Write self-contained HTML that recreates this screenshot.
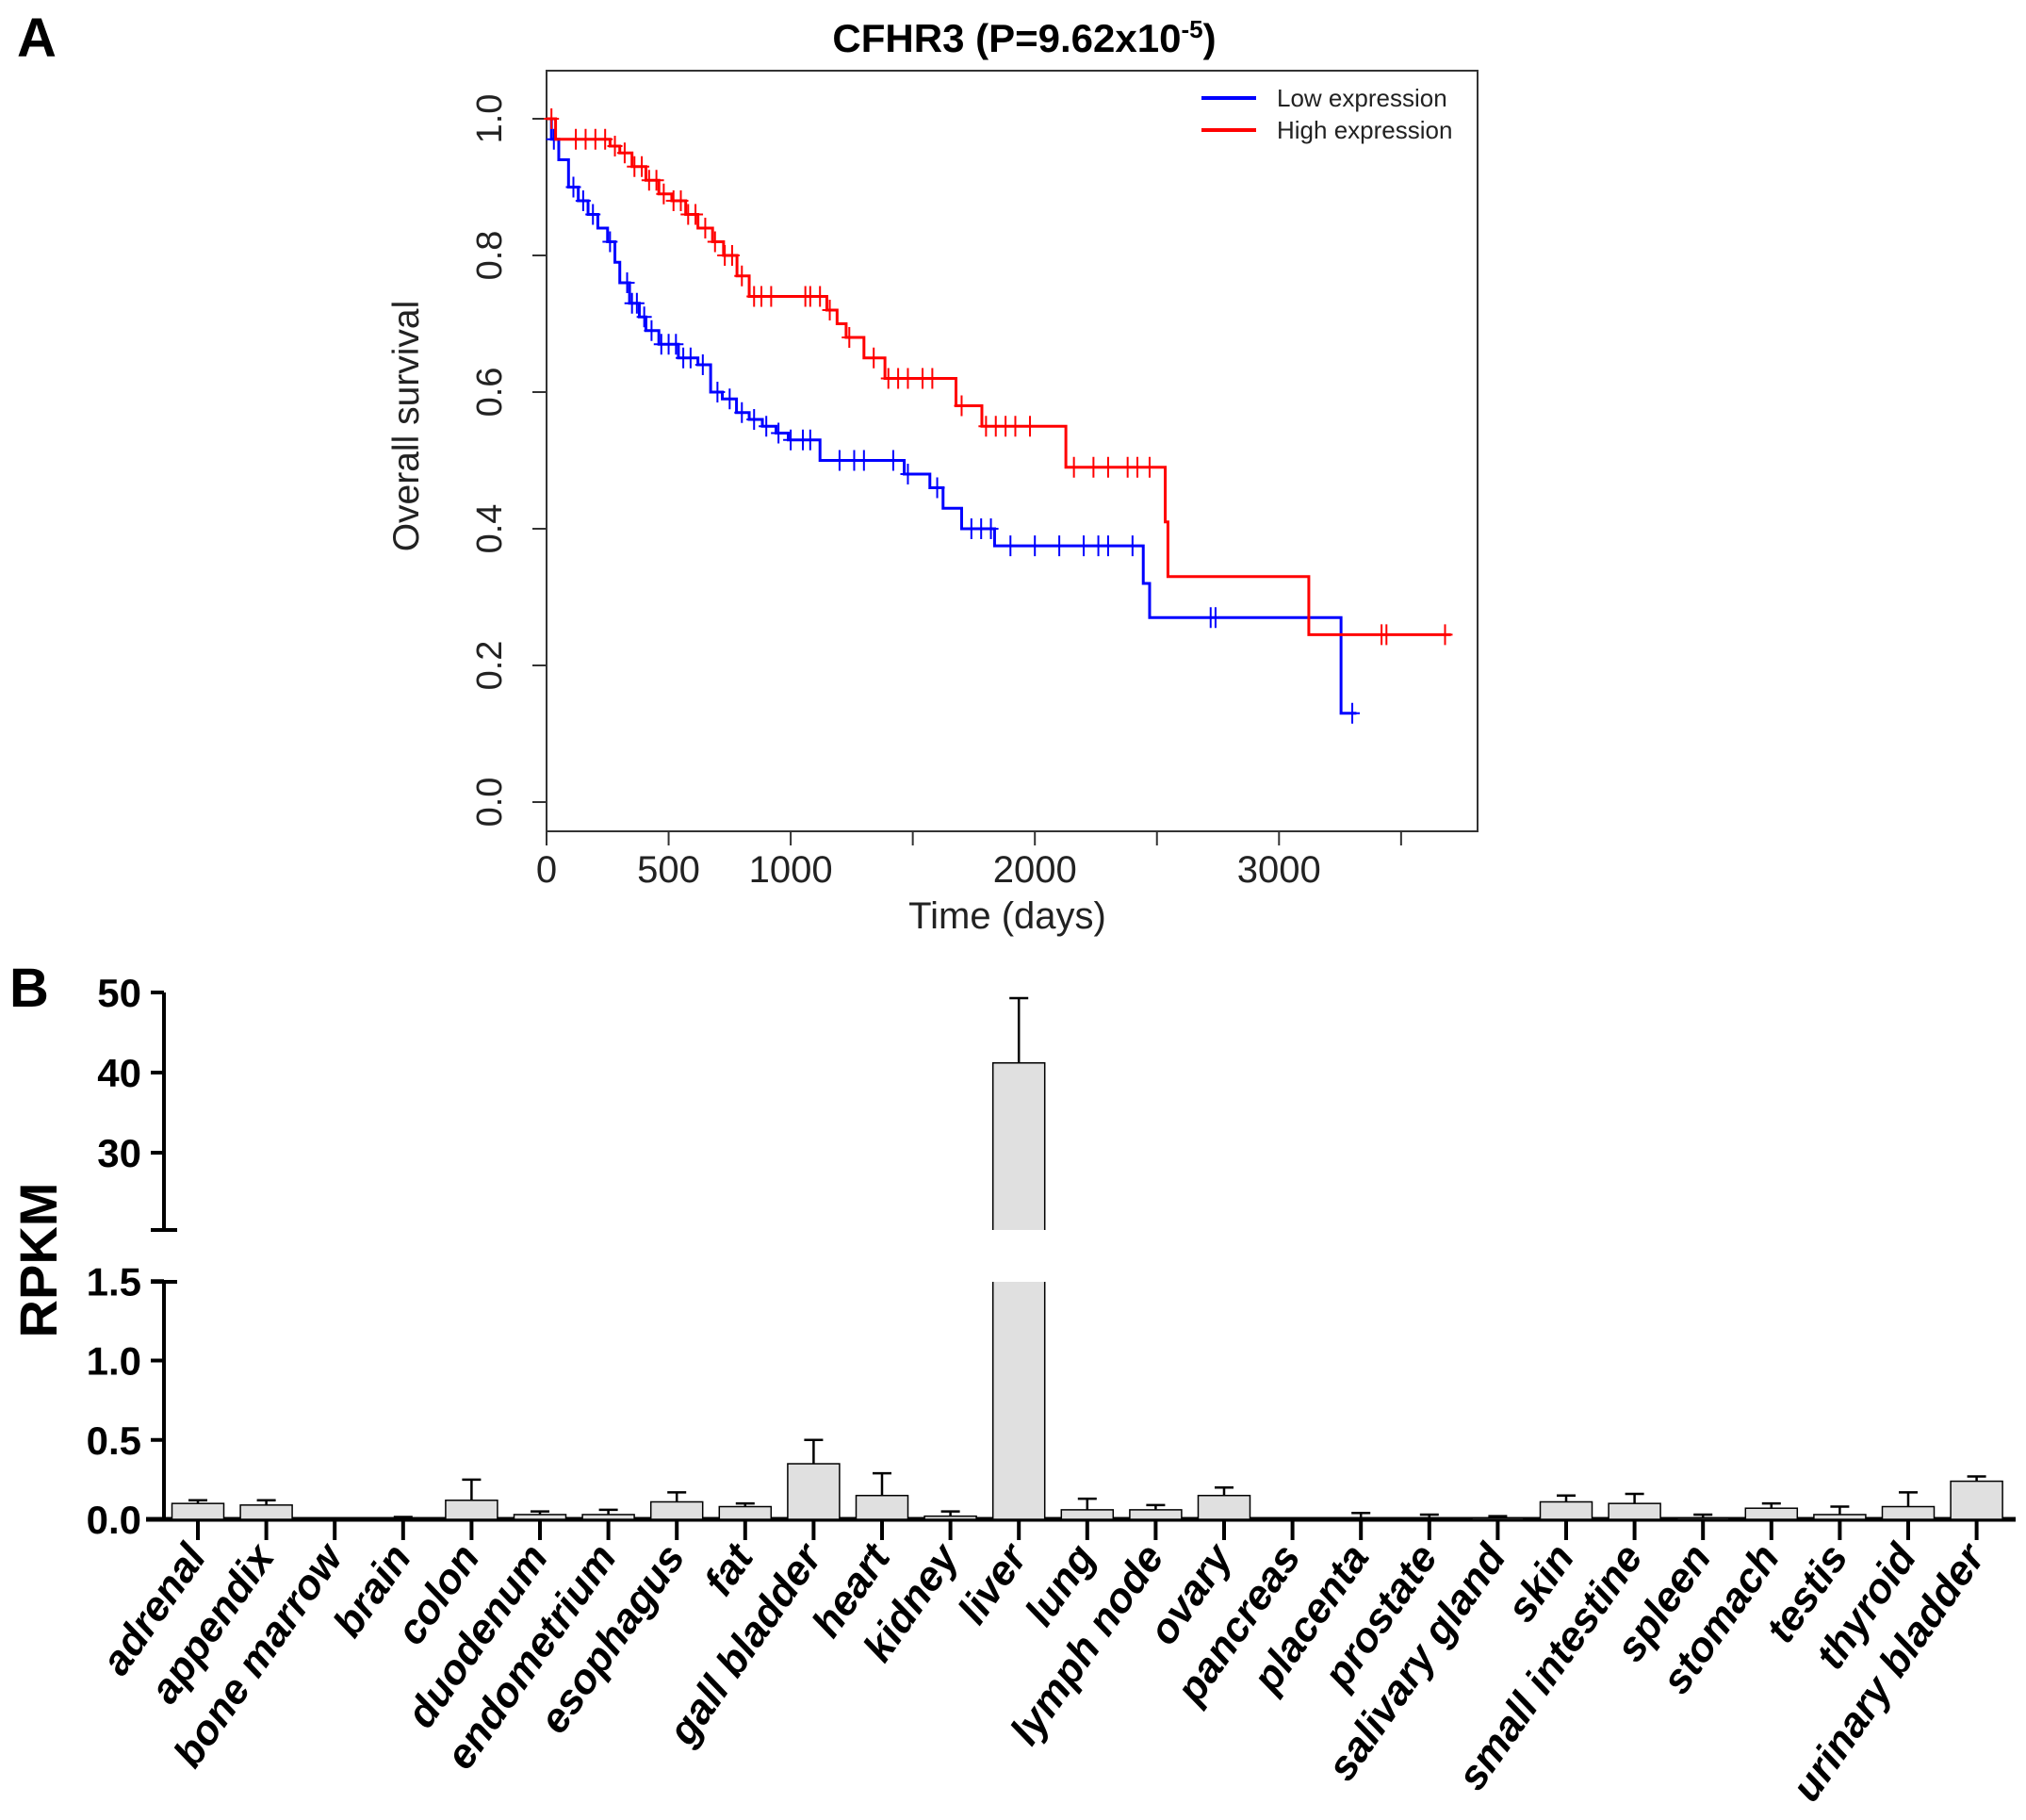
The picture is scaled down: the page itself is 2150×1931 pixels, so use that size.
<!DOCTYPE html>
<html><head><meta charset="utf-8"><style>
body{margin:0;background:#fff;}
svg{display:block;font-family:"Liberation Sans",Arial,sans-serif;}
</style></head><body>
<svg width="2150" height="1931" viewBox="0 0 2150 1931">
<g id="A">
<text x="18" y="60" font-size="58" font-weight="bold">A</text>
<text x="1087" y="55" font-size="42" font-weight="bold" text-anchor="middle">CFHR3 (P=9.62x10<tspan dy="-15" font-size="26">-5</tspan><tspan dy="15">)</tspan></text>
<rect x="580" y="75" width="988" height="807" fill="none" stroke="#333" stroke-width="2"/>
<g id="ay"></g>
<g id="ax"></g>
<text transform="translate(444,452) rotate(-90)" font-size="39" text-anchor="middle" fill="#222">Overall survival</text>
<text x="1069" y="985" font-size="40" text-anchor="middle" fill="#222">Time (days)</text>
<g id="curves"></g>
<g>
<line x1="1275" y1="104" x2="1333" y2="104" stroke="#0000ff" stroke-width="4"/>
<text x="1355" y="113" font-size="26" fill="#222">Low expression</text>
<line x1="1275" y1="138" x2="1333" y2="138" stroke="#ff0000" stroke-width="4"/>
<text x="1355" y="147" font-size="26" fill="#222">High expression</text>
</g>
</g>
<g id="B">
<text x="10" y="1068" font-size="58" font-weight="bold">B</text>
<text transform="translate(60,1337) rotate(-90)" font-size="56" font-weight="bold" text-anchor="middle">RPKM</text>
<g id="by"></g>
<g id="bars"></g>
</g>
</svg>
<script>
const NS='http://www.w3.org/2000/svg';
function mk(p,tag,at,txt){const e=document.createElementNS(NS,tag);for(const k in at)e.setAttribute(k,at[k]);if(txt!==undefined)e.textContent=txt;p.appendChild(e);return e;}
// ---- Panel A data ----
const survTicksY=[0,0.2,0.4,0.6,0.8,1.0];
const survTickLabelsY=['0.0','0.2','0.4','0.6','0.8','1.0'];
const timeTicks=[0,500,1000,1500,2000,2500,3000,3500];
const timeTickLabels=['0','500','1000','','2000','','3000',''];
const lowTimes=[0,20,50,90,130,170,210,250,280,300,340,380,407,460,540,620,672,720,778,830,884,940,990,1120,1465,1570,1624,1700,1835,2444,2470,3254,3317];
const lowSurv=[1.0,0.97,0.94,0.9,0.88,0.86,0.84,0.82,0.79,0.76,0.73,0.71,0.69,0.67,0.65,0.64,0.6,0.59,0.57,0.56,0.55,0.54,0.53,0.5,0.48,0.46,0.43,0.4,0.375,0.32,0.27,0.13,0.13];
const lowCensor=[30,110,150,190,260,330,350,370,400,430,470,500,530,560,590,640,700,750,800,850,900,950,1000,1050,1080,1200,1260,1300,1420,1480,1600,1740,1780,1820,1900,2000,2100,2200,2260,2300,2400,2720,2740,3300];
const highTimes=[0,37,196,260,300,350,407,460,513,570,620,680,725,780,830,1148,1190,1227,1300,1386,1677,1783,2127,2534,2545,3122,3704];
const highSurv=[1.0,0.97,0.97,0.96,0.95,0.93,0.91,0.89,0.88,0.86,0.84,0.82,0.8,0.77,0.74,0.72,0.7,0.68,0.65,0.62,0.58,0.55,0.49,0.41,0.33,0.245,0.245];
const highCensor=[20,120,160,200,240,280,320,360,390,420,450,480,520,550,580,610,650,690,730,760,800,850,880,920,1060,1080,1120,1160,1240,1340,1400,1440,1480,1540,1580,1700,1800,1840,1880,1920,1980,2160,2240,2300,2380,2420,2470,3420,3440,3680];
const xS=t=>580+t*0.2591, yS=s=>851-s*725;
const ay=document.getElementById('ay'), ax=document.getElementById('ax');
survTicksY.forEach((v,i)=>{
 const l=mk(ay,'line',{x1:565,x2:580,y1:yS(v),y2:yS(v),stroke:'#333','stroke-width':2});
 
 
 const t=mk(ay,'text',{transform:`translate(532,${yS(v)}) rotate(-90)`,'font-size':38,'text-anchor':'middle',fill:'#222'},survTickLabelsY[i]);
 
 
});
timeTicks.forEach((v,i)=>{
 const l=mk(ax,'line',{x1:xS(v),x2:xS(v),y1:882,y2:897,stroke:'#333','stroke-width':2});
 
 
 const t=mk(ax,'text',{x:xS(v),y:936,'font-size':40,'text-anchor':'middle',fill:'#222'},timeTickLabels[i]);
 
 
});
const cv=document.getElementById('curves');
function curve(times,surv,cens,col,name){
 let d=`M${xS(times[0])},${yS(surv[0])}`;
 for(let i=1;i<times.length;i++){d+=` H${xS(times[i])} V${yS(surv[i])}`;}
 const p=mk(cv,'path',{d:d,fill:'none',stroke:col,'stroke-width':3});
 
 
 cens.forEach(t=>{
  let s=surv[0];for(let i=0;i<times.length;i++){if(times[i]<=t)s=surv[i];}
  const x=xS(t),y=yS(s);
  const c=mk(cv,'path',{d:`M${x},${y-11}V${y+11}M${x-8},${y}H${x+8}`,stroke:col,'stroke-width':2});
  
  
 });
}
curve(lowTimes,lowSurv,lowCensor,'#0000ff','low-expression');
curve(highTimes,highSurv,highCensor,'#ff0000','high-expression');
// ---- Panel B data ----
const tissues=['adrenal','appendix','bone marrow','brain','colon','duodenum','endometrium','esophagus','fat','gall bladder','heart','kidney','liver','lung','lymph node','ovary','pancreas','placenta','prostate','salivary gland','skin','small intestine','spleen','stomach','testis','thyroid','urinary bladder'];
const rpkm=[0.1,0.09,0,0.005,0.12,0.03,0.03,0.11,0.08,0.35,0.15,0.02,41.2,0.06,0.06,0.15,0,0.005,0.003,0.01,0.11,0.1,0.01,0.07,0.03,0.08,0.24];
const rpkmErr=[0.12,0.12,0,0.015,0.25,0.05,0.06,0.17,0.1,0.5,0.29,0.05,49.3,0.13,0.09,0.2,0,0.04,0.03,0.02,0.15,0.16,0.03,0.1,0.08,0.17,0.27];
const lowTicks=[0,0.5,1.0,1.5], lowTickLabels=['0.0','0.5','1.0','1.5'];
const highTicks=[30,40,50], highTickLabels=['30','40','50'];
const yLo=v=>1612-v*168.5, yHi=v=>1053+(50-v)*8.5;
const yVal=v=>v<=1.5?yLo(v):yHi(Math.max(v,20.4));
const bx=i=>210+i*72.6;
const by=document.getElementById('by'), bg=document.getElementById('bars');
const axl=mk(by,'path',{d:`M174,1053V1305M174,1360V1612`,stroke:'#000','stroke-width':4});


const brk=mk(by,'path',{d:`M160,1305H188M160,1360H188`,stroke:'#000','stroke-width':4});


[[lowTicks,lowTickLabels,yLo],[highTicks,highTickLabels,yHi]].forEach(([tk,lb,f])=>{
 tk.forEach((v,i)=>{
  const l=mk(by,'line',{x1:160,x2:174,y1:f(v),y2:f(v),stroke:'#000','stroke-width':4});
  
  
  const t=mk(by,'text',{x:150,y:f(v)+15,'font-size':42,'font-weight':'bold','text-anchor':'end'},lb[i]);
  
  
 });
});
const xl=mk(by,'line',{x1:155,x2:2139,y1:1612,y2:1612,stroke:'#000','stroke-width':5});


tissues.forEach((n,i)=>{
 const cx=bx(i),v=rpkm[i],e=rpkmErr[i],w=55;
 if(e>v){
  const ep=mk(bg,'path',{d:`M${cx},${yVal(v)}V${yVal(e)}M${cx-10},${yVal(e)}H${cx+10}`,stroke:'#000','stroke-width':2.5});
  
  
 }
 if(v>1.5){
  const r1=mk(bg,'path',{d:`M${cx-w/2},1360V1612H${cx+w/2}V1360`,fill:'#e0e0e0',stroke:'#000','stroke-width':1.5});
  
  
  const r2=mk(bg,'path',{d:`M${cx-w/2},1305V${yHi(v)}H${cx+w/2}V1305`,fill:'#e0e0e0',stroke:'#000','stroke-width':1.5});
  
  
 } else {
  const r=mk(bg,'rect',{x:cx-w/2,y:yLo(v),width:w,height:1612-yLo(v),fill:'#e0e0e0',stroke:'#000','stroke-width':1.5});
  
  
 }
 const tk=mk(bg,'line',{x1:cx,x2:cx,y1:1612,y2:1634,stroke:'#000','stroke-width':4});
 
 
 const t=mk(bg,'text',{transform:`translate(${cx+10},1652) rotate(-55)`,'font-size':44,'font-weight':'bold','font-style':'italic','text-anchor':'end'},n);
 
 
});
</script>
</body></html>
